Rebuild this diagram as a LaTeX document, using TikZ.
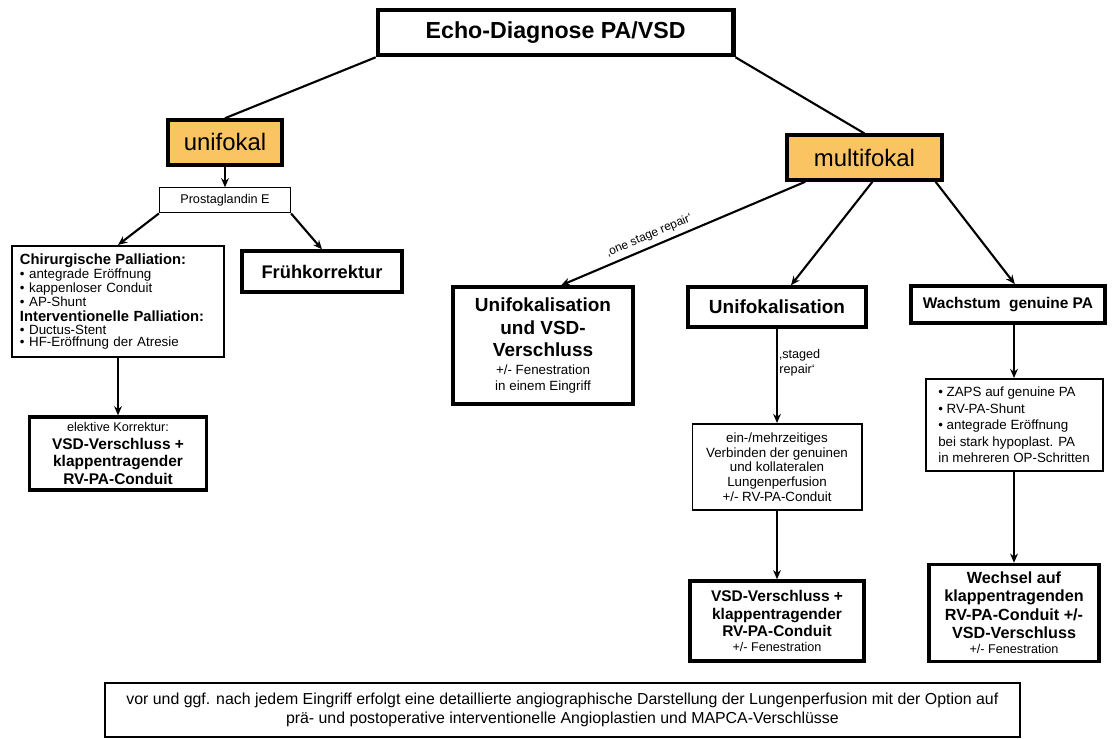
\documentclass[tikz,border=0pt]{standalone}
\usepackage{fontspec}
\setmainfont{Liberation Sans}
\usepackage{xcolor, tikz}
\usetikzlibrary{calc,arrows.meta}
\definecolor{fokalorange}{RGB}{250,196,98}
\newcommand{\kleintext}{\fontsize{9.5}{10.5}\selectfont}
\newcommand{\kopftext}{\fontsize{10.5}{11.5}\selectfont\bfseries}
\tikzstyle{titlebox} = [rectangle, draw=black, line width=3.4pt, minimum width=8.875cm, minimum height=1.125cm, font=\fontsize{16.5}{18}\selectfont\bfseries]
\tikzstyle{fokalbox} = [rectangle, draw=black, line width=2.4pt, fill=fokalorange, minimum height=1.125cm, font=\fontsize{17}{19}\selectfont]
\tikzstyle{smallbox} = [rectangle, draw=black, line width=0.8pt, minimum width=3.275cm, minimum height=0.625cm, font=\fontsize{9}{10}\selectfont]
\tikzstyle{heavybox} = [rectangle, draw=black, line width=2.5pt, align=center, inner sep=2pt, font=\fontsize{11}{12.5}\selectfont\bfseries]
\tikzstyle{textbox} = [rectangle, draw=black, line width=1.4pt, align=center, inner sep=3pt, font=\kleintext]
\tikzstyle{notebox} = [rectangle, draw=black, line width=1pt, align=center, minimum width=22.875cm, minimum height=1.35cm, font=\fontsize{11.3}{13.5}\selectfont]
\tikzstyle{link} = [line width=1.5pt]
\tikzstyle{arrow} = [line width=1.5pt,->,>={Stealth[length=6.5pt,width=5.5pt]}]

\begin{document}
\begin{tikzpicture}[node distance=2cm]
  \useasboundingbox (0,0) rectangle (27.925,-18.45);
  \node (echo)[titlebox] at (13.89,-0.81) {Echo-Diagnose PA/VSD};
  \node (uni)[fokalbox, minimum width=2.85cm] at (5.625,-3.56) {unifokal};
  \node (multi)[fokalbox, minimum width=3.875cm] at (21.61,-3.94) {multifokal};

  % linker Ast
  \node (prost)[smallbox, below of=uni, yshift=0.55cm] {Prostaglandin E};
  \node (chir)[textbox, align=left, text width=4.9cm, inner sep=0.2cm, minimum height=2.525cm, font=\fontsize{9.5}{8.8}\selectfont] at (2.95,-7.54)
    {{\kopftext Chirurgische Palliation:}\\
     • antegrade Eröffnung\\
     • kappenloser Conduit\\
     • AP-Shunt\\[2pt]
     {\kopftext Interventionelle Palliation:}\\
     • Ductus-Stent\\
     • HF-Eröffnung der Atresie};
  \node (frueh)[heavybox, minimum width=4cm, minimum height=1.025cm, font=\fontsize{13}{15}\selectfont\bfseries] at (8.05,-6.79) {Frühkorrektur};
  \node (elektiv)[heavybox, minimum width=4.425cm, minimum height=1.825cm, below of=chir, yshift=-1.8cm]
    {{\normalfont\fontsize{9}{10}\selectfont elektive Korrektur:}\\VSD-Verschluss +\\klappentragender\\RV-PA-Conduit};

  % rechter Ast
  \node (uvsd)[heavybox, minimum width=4.5cm, minimum height=2.925cm, font=\fontsize{13.5}{16}\selectfont\bfseries] at (13.575,-8.64)
    {Unifokalisation\\und VSD-\\Verschluss\\[-3pt]{\normalfont\kleintext +/- Fenestration}\\[-5pt]{\normalfont\kleintext in einem Eingriff}};
  \node (unifok)[heavybox, minimum width=4.45cm, minimum height=1cm, font=\fontsize{13.5}{15.5}\selectfont\bfseries] at (19.425,-7.675) {Unifokalisation};
  \node (verbind)[textbox, minimum width=4.225cm, minimum height=2.15cm, below of=unifok, yshift=-2cm]
    {ein-/mehrzeitiges\\Verbinden der genuinen\\und kollateralen\\Lungenperfusion\\+/- RV-PA-Conduit};
  \node (vsdv)[heavybox, minimum width=4.35cm, minimum height=2cm, below of=verbind, yshift=-1.85cm]
    {VSD-Verschluss +\\klappentragender\\RV-PA-Conduit\\[-2pt]{\normalfont\fontsize{9}{10}\selectfont +/- Fenestration}};
  \node (wachstum)[heavybox, minimum width=4.85cm, minimum height=0.925cm] at (25.2,-7.61) {Wachstum\ \ genuine PA};
  \node (zaps)[textbox, align=left, minimum width=4.425cm, minimum height=2.3cm, font=\fontsize{9.5}{11.8}\selectfont] at (25.35,-10.625)
    {• ZAPS auf genuine PA\\• RV-PA-Shunt\\• antegrade Eröffnung\\bei stark hypoplast. PA\\in mehreren OP-Schritten};
  \node (wechsel)[heavybox, minimum width=4.25cm, minimum height=2.425cm, font=\fontsize{11.5}{13}\selectfont\bfseries, below of=zaps, yshift=-2.7cm]
    {Wechsel auf\\klappentragenden\\RV-PA-Conduit +/-\\VSD-Verschluss\\[-2pt]{\normalfont\fontsize{9}{10}\selectfont +/- Fenestration}};

  \node (hinweis)[notebox] at (14.06,-17.75)
    {vor und ggf. nach jedem Eingriff erfolgt eine detaillierte angiographische Darstellung der Lungenperfusion mit der Option auf\\
     prä- und postoperative interventionelle Angioplastien und MAPCA-Verschlüsse};

  \draw[link] (echo.south west) -- (uni.north);
  \draw[link] (echo.south east) -- (multi.north);
  \draw[arrow] (uni) -- (prost);
  \draw[arrow] (prost.south west) -- (chir.north);
  \draw[arrow] (prost.south east) -- (frueh.north);
  \draw[arrow] (chir) -- (elektiv);
  \draw[arrow] ($(multi.south west)+(0.5,0)$) -- ($(uvsd.north)+(0.45,0)$)
    node[sloped, above, pos=0.62, font=\fontsize{8.5}{9}\selectfont]{‚one stage repair‘};
  \draw[arrow] ($(multi.south)+(0.2,0)$) -- ($(unifok.north)+(0.35,0)$);
  \draw[arrow] ($(multi.south east)+(-0.2,0)$) -- ($(wachstum.north)+(0.17,0)$);
  \draw[arrow] (unifok) -- (verbind)
    node[right, pos=0.36, align=left, inner sep=1pt, font=\fontsize{9}{11}\selectfont]{‚staged\\repair‘};
  \draw[arrow] (verbind) -- (vsdv);
  \draw[arrow] (zaps.north |- wachstum.south) -- (zaps.north);
  \draw[arrow] (zaps) -- (wechsel);
\end{tikzpicture}
\end{document}
